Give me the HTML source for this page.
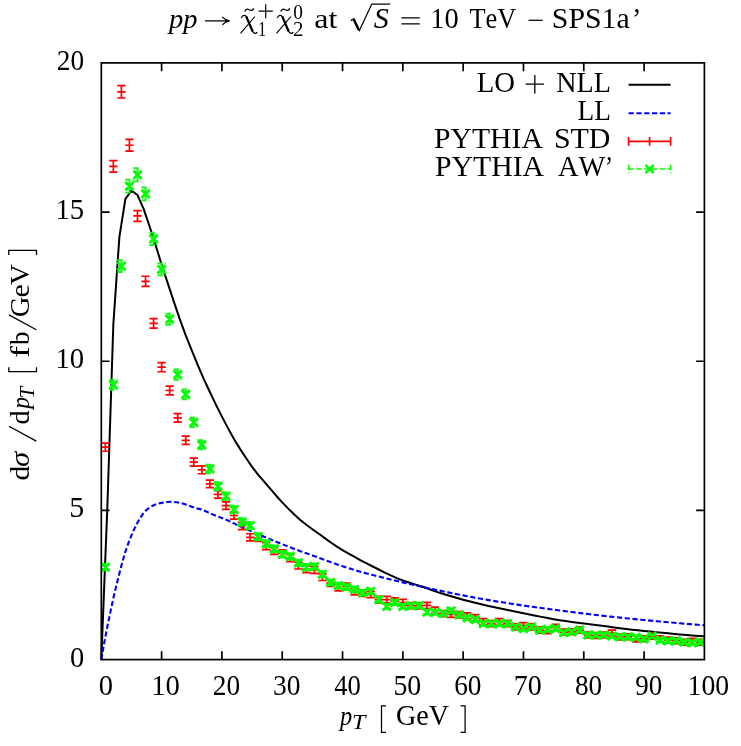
<!DOCTYPE html>
<html><head><meta charset="utf-8"><title>plot</title>
<style>html,body{margin:0;padding:0;background:#fff;}svg{display:block;will-change:transform;}text{font-family:"Liberation Serif",serif;font-kerning:none;}</style></head>
<body>
<svg width="741" height="746" viewBox="0 0 741 746">
<rect x="0" y="0" width="741" height="746" fill="#fff"/>
<path d="M161.61 659.60V651.30M161.61 62.90V71.20M221.92 659.60V651.30M221.92 62.90V71.20M282.23 659.60V651.30M282.23 62.90V71.20M342.54 659.60V651.30M342.54 62.90V71.20M402.85 659.60V651.30M402.85 62.90V71.20M463.16 659.60V651.30M463.16 62.90V71.20M523.47 659.60V651.30M523.47 62.90V71.20M583.78 659.60V651.30M583.78 62.90V71.20M644.09 659.60V651.30M644.09 62.90V71.20M101.30 510.43H109.60M704.40 510.43H696.10M101.30 361.25H109.60M704.40 361.25H696.10M101.30 212.07H109.60M704.40 212.07H696.10" stroke="#000" stroke-width="1.70" fill="none"/>
<path d="M101.30 659.60L107.33 507.44L113.36 323.96L119.39 236.84L125.42 198.95L131.45 190.59L137.49 195.03L143.52 208.70L149.55 226.22L155.58 244.99L161.61 264.48L167.64 282.93L173.67 301.13L179.70 318.83L185.73 335.36L191.76 350.49L197.80 365.11L203.83 379.10L209.86 392.03L215.89 404.63L221.92 416.65L227.95 428.11L233.98 439.09L240.01 448.88L246.04 458.03L252.07 466.82L258.11 474.69L264.14 481.55L270.17 488.54L276.20 495.72L282.23 502.37L288.26 508.63L294.29 514.54L300.32 519.97L306.35 524.74L312.38 529.19L318.42 533.47L324.45 537.84L330.48 542.29L336.51 546.36L342.54 550.08L348.57 553.60L354.60 556.98L360.63 560.28L366.66 563.46L372.70 566.51L378.73 569.51L384.76 572.53L390.79 575.45L396.82 578.13L402.85 580.46L408.88 582.47L414.91 584.34L420.94 586.21L426.97 588.24L433.01 590.46L439.04 592.58L445.07 594.47L451.10 596.28L457.13 598.01L463.16 599.68L469.19 601.27L475.22 602.81L481.25 604.28L487.28 605.67L493.32 607.01L499.35 608.29L505.38 609.53L511.41 610.76L517.44 611.97L523.47 613.20L529.50 614.44L535.53 615.67L541.56 616.88L547.59 618.05L553.62 619.15L559.66 620.16L565.69 621.08L571.72 621.94L577.75 622.75L583.78 623.53L589.81 624.29L595.84 625.05L601.87 625.82L607.90 626.61L613.94 627.39L619.97 628.16L626.00 628.92L632.03 629.64L638.06 630.32L644.09 630.95L650.12 631.58L656.15 632.18L662.18 632.77L668.21 633.35L674.25 633.90L680.28 634.44L686.31 634.95L692.34 635.43L698.37 635.90L704.40 636.33" stroke="#000" stroke-width="2" fill="none" stroke-linejoin="round"/>
<path d="M101.30 659.60L104.32 642.36L107.33 626.72L110.35 612.18L113.36 598.19L116.38 585.22L119.39 573.30L122.41 562.03L125.42 551.67L128.44 542.99L131.45 535.37L134.47 528.53L137.49 522.58L140.50 517.44L143.52 513.13L146.53 509.90L149.55 507.56L152.56 505.79L155.58 504.53L158.59 503.55L161.61 502.89L164.63 502.38L167.64 501.98L170.66 501.78L173.67 501.90L176.69 502.32L179.70 502.90L182.72 503.53L185.73 504.43L188.75 505.53L191.76 506.70L194.78 507.78L197.80 508.64L200.81 509.36L203.83 510.41L206.84 511.77L209.86 513.22L212.87 514.55L215.89 515.74L218.90 516.89L221.92 518.03L224.94 519.22L227.95 520.50L230.97 521.89L233.98 523.35L237.00 524.84L240.01 526.30L243.03 527.71L246.04 529.06L249.06 530.40L252.07 531.71L255.09 533.01L258.11 534.29L261.12 535.56L264.14 536.81L267.15 538.05L270.17 539.28L273.18 540.50L276.20 541.72L279.21 542.93L282.23 544.14L285.25 545.35L288.26 546.57L291.28 547.77L294.29 548.95L297.31 550.10L300.32 551.22L303.34 552.29L306.35 553.32L309.37 554.37L312.38 555.44L315.40 556.54L318.42 557.65L321.43 558.77L324.45 559.88L327.46 560.98L330.48 562.07L333.49 563.12L336.51 564.14L339.52 565.16L342.54 566.16L345.56 567.14L348.57 568.11L351.59 569.06L354.60 569.99L357.62 570.89L360.63 571.76L363.65 572.60L366.66 573.43L369.68 574.24L372.70 575.03L375.71 575.81L378.73 576.58L381.74 577.33L384.76 578.08L387.77 578.82L390.79 579.55L393.80 580.28L396.82 581.01L399.83 581.73L402.85 582.45L405.87 583.16L408.88 583.86L411.90 584.56L414.91 585.25L417.93 585.93L420.94 586.60L423.96 587.27L426.97 587.93L429.99 588.58L433.01 589.22L436.02 589.86L439.04 590.48L442.05 591.10L445.07 591.73L448.08 592.35L451.10 592.97L454.11 593.58L457.13 594.19L460.14 594.80L463.16 595.40L466.18 595.99L469.19 596.58L472.21 597.15L475.22 597.71L478.24 598.26L481.25 598.80L484.27 599.33L487.28 599.85L490.30 600.36L493.32 600.86L496.33 601.36L499.35 601.84L502.36 602.33L505.38 602.80L508.39 603.27L511.41 603.73L514.42 604.19L517.44 604.64L520.45 605.09L523.47 605.53L526.49 605.97L529.50 606.40L532.52 606.82L535.53 607.24L538.55 607.65L541.56 608.06L544.58 608.46L547.59 608.86L550.61 609.26L553.62 609.66L556.64 610.05L559.66 610.44L562.67 610.84L565.69 611.23L568.70 611.61L571.72 612.00L574.73 612.38L577.75 612.76L580.76 613.14L583.78 613.51L586.80 613.88L589.81 614.25L592.83 614.61L595.84 614.96L598.86 615.31L601.87 615.65L604.89 615.99L607.90 616.32L610.92 616.65L613.94 616.98L616.95 617.30L619.97 617.62L622.98 617.93L626.00 618.24L629.01 618.55L632.03 618.85L635.04 619.15L638.06 619.45L641.07 619.74L644.09 620.03L647.11 620.31L650.12 620.60L653.14 620.88L656.15 621.16L659.17 621.44L662.18 621.72L665.20 621.99L668.21 622.26L671.23 622.53L674.25 622.79L677.26 623.06L680.28 623.32L683.29 623.58L686.31 623.83L689.32 624.08L692.34 624.33L695.35 624.58L698.37 624.82L701.38 625.05L704.40 625.29" stroke="#00f" stroke-width="2.1" fill="none" stroke-dasharray="5.2 2.6"/>
<clipPath id="c"><rect x="101.30" y="62.90" width="603.10" height="596.70"/></clipPath>
<path d="M105.32 443.12V451.23M101.17 443.12H109.47M101.17 447.17H109.47M101.17 451.23H109.47M113.36 160.71V172.14M109.21 160.71H117.51M109.21 166.43H117.51M109.21 172.14H117.51M121.40 85.69V97.99M117.25 85.69H125.55M117.25 91.84H125.55M117.25 97.99H125.55M129.44 139.41V151.08M125.29 139.41H133.59M125.29 145.24H133.59M125.29 151.08H133.59M137.49 210.53V221.38M133.34 210.53H141.64M133.34 215.95H141.64M133.34 221.38H141.64M145.53 276.26V286.33M141.38 276.26H149.68M141.38 281.29H149.68M141.38 286.33H149.68M153.57 318.57V328.15M149.42 318.57H157.72M149.42 323.36H157.72M149.42 328.15H157.72M161.61 362.69V371.75M157.46 362.69H165.76M157.46 367.22H165.76M157.46 371.75H165.76M169.65 386.10V394.88M165.50 386.10H173.80M165.50 390.49H173.80M165.50 394.88H173.80M177.69 413.71V422.17M173.54 413.71H181.84M173.54 417.94H181.84M173.54 422.17H181.84M185.73 436.21V444.41M181.58 436.21H189.88M181.58 440.31H189.88M181.58 444.41H189.88M193.78 458.12V466.06M189.63 458.12H197.93M189.63 462.09H197.93M189.63 466.06H197.93M201.82 465.93V473.77M197.67 465.93H205.97M197.67 469.85H205.97M197.67 473.77H205.97M209.86 480.03V487.71M205.71 480.03H214.01M205.71 483.87H214.01M205.71 487.71H214.01M217.90 490.53V498.09M213.75 490.53H222.05M213.75 494.31H222.05M213.75 498.09H222.05M225.94 501.94V509.36M221.79 501.94H230.09M221.79 505.65H230.09M221.79 509.36H230.09M233.98 511.84V519.15M229.83 511.84H238.13M229.83 515.50H238.13M229.83 519.15H238.13M242.02 522.35V529.53M237.87 522.35H246.17M237.87 525.94H246.17M237.87 529.53H246.17M250.06 533.75V540.80M245.91 533.75H254.21M245.91 537.28H254.21M245.91 540.80H254.21M258.11 534.35V541.40M253.96 534.35H262.26M253.96 537.87H262.26M253.96 541.40H262.26M266.15 542.75V549.70M262.00 542.75H270.30M262.00 546.23H270.30M262.00 549.70H270.30M274.19 547.56V554.45M270.04 547.56H278.34M270.04 551.00H278.34M270.04 554.45H278.34M282.23 549.96V556.82M278.08 549.96H286.38M278.08 553.39H286.38M278.08 556.82H286.38M290.27 554.76V561.56M286.12 554.76H294.42M286.12 558.16H294.42M286.12 561.56H294.42M298.31 562.26V568.98M294.16 562.26H302.46M294.16 565.62H302.46M294.16 568.98H302.46M306.35 565.92V572.60M302.20 565.92H310.50M302.20 569.26H310.50M302.20 572.60H310.50M314.40 566.67V573.34M310.25 566.67H318.55M310.25 570.01H318.55M310.25 573.34H318.55M322.44 573.94V580.52M318.29 573.94H326.59M318.29 577.23H326.59M318.29 580.52H326.59M330.48 579.88V586.39M326.33 579.88H334.63M326.33 583.13H334.63M326.33 586.39H334.63M338.52 584.39V590.85M334.37 584.39H342.67M334.37 587.62H342.67M334.37 590.85H342.67M346.56 583.19V589.67M342.41 583.19H350.71M342.41 586.43H350.71M342.41 589.67H350.71M354.60 588.57V594.97M350.45 588.57H358.75M350.45 591.77H358.75M350.45 594.97H358.75M362.64 589.98V596.37M358.49 589.98H366.79M358.49 593.17H366.79M358.49 596.37H366.79M370.68 591.31V597.69M366.53 591.31H374.83M366.53 594.50H374.83M366.53 597.69H374.83M378.73 596.47V602.79M374.58 596.47H382.88M374.58 599.63H382.88M374.58 602.79H382.88M386.77 596.47V602.79M382.62 596.47H390.92M382.62 599.63H390.92M382.62 602.79H390.92M394.81 597.97V604.27M390.66 597.97H398.96M390.66 601.12H398.96M390.66 604.27H398.96M402.85 599.47V605.76M398.70 599.47H407.00M398.70 602.62H407.00M398.70 605.76H407.00M410.89 602.48V608.72M406.74 602.48H415.04M406.74 605.60H415.04M406.74 608.72H415.04M418.93 602.78V609.02M414.78 602.78H423.08M414.78 605.90H423.08M414.78 609.02H423.08M426.97 602.33V608.57M422.82 602.33H431.12M422.82 605.45H431.12M422.82 608.57H431.12M435.02 607.19V613.38M430.87 607.19H439.17M430.87 610.28H439.17M430.87 613.38H439.17M443.06 610.52V616.67M438.91 610.52H447.21M438.91 613.59H447.21M438.91 616.67H447.21M451.10 611.33V617.47M446.95 611.33H455.25M446.95 614.40H455.25M446.95 617.47H455.25M459.14 611.72V617.86M454.99 611.72H463.29M454.99 614.79H463.29M454.99 617.86H463.29M467.18 612.92V619.04M463.03 612.92H471.33M463.03 615.98H471.33M463.03 619.04H471.33M475.22 614.54V620.64M471.07 614.54H479.37M471.07 617.59H479.37M471.07 620.64H479.37M483.26 618.59V624.65M479.11 618.59H487.41M479.11 621.62H487.41M479.11 624.65H487.41M491.30 620.66V626.70M487.15 620.66H495.45M487.15 623.68H495.45M487.15 626.70H495.45M499.35 618.59V624.65M495.20 618.59H503.50M495.20 621.62H503.50M495.20 624.65H503.50M507.39 620.66V626.70M503.24 620.66H511.54M503.24 623.68H511.54M503.24 626.70H511.54M515.43 623.90V629.90M511.28 623.90H519.58M511.28 626.90H519.58M511.28 629.90H519.58M523.47 622.67V628.68M519.32 622.67H527.62M519.32 625.68H527.62M519.32 628.68H527.62M531.51 623.90V629.90M527.36 623.90H535.66M527.36 626.90H535.66M527.36 629.90H535.66M539.55 627.17V633.13M535.40 627.17H543.70M535.40 630.15H543.70M535.40 633.13H543.70M547.59 627.62V633.58M543.44 627.62H551.74M543.44 630.60H551.74M543.44 633.58H551.74M555.64 624.29V630.28M551.49 624.29H559.79M551.49 627.29H559.79M551.49 630.28H559.79M563.68 629.19V635.12M559.53 629.19H567.83M559.53 632.15H567.83M559.53 635.12H567.83M571.72 628.83V634.76M567.57 628.83H575.87M567.57 631.79H575.87M567.57 634.76H575.87M579.76 627.17V633.13M575.61 627.17H583.91M575.61 630.15H583.91M575.61 633.13H583.91M587.80 632.07V637.97M583.65 632.07H591.95M583.65 635.02H591.95M583.65 637.97H591.95M595.84 632.49V638.38M591.69 632.49H599.99M591.69 635.43H599.99M591.69 638.38H599.99M603.88 632.07V637.97M599.73 632.07H608.03M599.73 635.02H608.03M599.73 637.97H608.03M611.92 630.09V636.01M607.77 630.09H616.07M607.77 633.05H616.07M607.77 636.01H616.07M619.97 634.08V639.95M615.82 634.08H624.12M615.82 637.01H624.12M615.82 639.95H624.12M628.01 633.87V639.75M623.86 633.87H632.16M623.86 636.81H632.16M623.86 639.75H632.16M636.05 635.94V641.79M631.90 635.94H640.20M631.90 638.86H640.20M631.90 641.79H640.20M644.09 635.88V641.73M639.94 635.88H648.24M639.94 638.81H648.24M639.94 641.73H648.24M652.13 633.33V639.21M647.98 633.33H656.28M647.98 636.27H656.28M647.98 639.21H656.28M660.17 635.73V641.58M656.02 635.73H664.32M656.02 638.66H664.32M656.02 641.58H664.32M668.21 637.08V642.92M664.06 637.08H672.36M664.06 640.00H672.36M664.06 642.92H672.36M676.26 637.77V643.60M672.11 637.77H680.41M672.11 640.68H680.41M672.11 643.60H680.41M684.30 639.30V645.11M680.15 639.30H688.45M680.15 642.21H688.45M680.15 645.11H688.45M692.34 638.46V644.28M688.19 638.46H696.49M688.19 641.37H696.49M688.19 644.28H696.49M700.38 639.30V645.11M696.23 639.30H704.53M696.23 642.21H704.53M696.23 645.11H704.53" stroke="#f00" stroke-width="1.7" fill="none" clip-path="url(#c)"/>
<path d="M105.32 564.02V570.20M101.17 564.02H109.47M101.17 570.20H109.47M113.36 379.75V389.89M109.21 379.75H117.51M109.21 389.89H117.51M121.40 260.08V272.07M117.25 260.08H125.55M117.25 272.07H125.55M129.44 179.58V192.66M125.29 179.58H133.59M125.29 192.66H133.59M137.49 168.17V181.39M133.34 168.17H141.64M133.34 181.39H141.64M145.53 187.39V200.36M141.38 187.39H149.68M141.38 200.36H149.68M153.57 232.74V245.11M149.42 232.74H157.72M149.42 245.11H157.72M161.61 263.39V275.33M157.46 263.39H165.76M157.46 275.33H165.76M169.65 313.58V324.78M165.50 313.58H173.80M165.50 324.78H173.80M177.69 369.52V379.83M173.54 369.52H181.84M173.54 379.83H181.84M185.73 389.38V399.35M181.58 389.38H189.88M181.58 399.35H189.88M193.78 417.68V427.14M189.63 417.68H197.93M189.63 427.14H197.93M201.82 440.27V449.31M197.67 440.27H205.97M197.67 449.31H205.97M209.86 464.67V473.23M205.71 464.67H214.01M205.71 473.23H214.01M217.90 482.16V490.36M213.75 482.16H222.05M213.75 490.36H222.05M225.94 492.11V500.09M221.79 492.11H230.09M221.79 500.09H230.09M233.98 505.69V513.37M229.83 505.69H238.13M229.83 513.37H238.13M242.02 518.07V525.45M237.87 518.07H246.17M237.87 525.45H246.17M250.06 522.00V529.29M245.91 522.00H254.21M245.91 529.29H254.21M258.11 533.17V540.19M253.96 533.17H262.26M253.96 540.19H262.26M266.15 540.12V546.96M262.00 540.12H270.30M262.00 546.96H270.30M274.19 545.57V552.26M270.04 545.57H278.34M270.04 552.26H278.34M282.23 551.01V557.56M278.08 551.01H286.38M278.08 557.56H286.38M290.27 553.13V559.61M286.12 553.13H294.42M286.12 559.61H294.42M298.31 559.78V566.09M294.16 559.78H302.46M294.16 566.09H302.46M306.35 564.02V570.20M302.20 564.02H310.50M302.20 570.20H310.50M314.40 563.42V569.61M310.25 563.42H318.55M310.25 569.61H318.55M322.44 571.29V577.25M318.29 571.29H326.59M318.29 577.25H326.59M330.48 579.47V585.18M326.33 579.47H334.63M326.33 585.18H334.63M338.52 582.81V588.41M334.37 582.81H342.67M334.37 588.41H342.67M346.56 584.32V589.88M342.41 584.32H350.71M342.41 589.88H350.71M354.60 586.75V592.22M350.45 586.75H358.75M350.45 592.22H358.75M362.64 590.09V595.45M358.49 590.09H366.79M358.49 595.45H366.79M370.68 588.57V593.98M366.53 588.57H374.83M366.53 593.98H374.83M378.73 597.07V602.19M374.58 597.07H382.88M374.58 602.19H382.88M386.77 604.07V608.92M382.62 604.07H390.92M382.62 608.92H390.92M394.81 600.11V605.12M390.66 600.11H398.96M390.66 605.12H398.96M402.85 604.07V608.92M398.70 604.07H407.00M398.70 608.92H407.00M410.89 603.15V608.04M406.74 603.15H415.04M406.74 608.04H415.04M418.93 603.15V608.04M414.78 603.15H423.08M414.78 608.04H423.08M426.97 609.85V614.48M422.82 609.85H431.12M422.82 614.48H431.12M435.02 610.03V614.65M430.87 610.03H439.17M430.87 614.65H439.17M443.06 611.19V615.76M438.91 611.19H447.21M438.91 615.76H447.21M451.10 608.39V613.07M446.95 608.39H455.25M446.95 613.07H455.25M459.14 612.53V617.05M454.99 612.53H463.29M454.99 617.05H463.29M467.18 615.82V620.20M463.03 615.82H471.33M463.03 620.20H471.33M475.22 617.47V621.78M471.07 617.47H479.37M471.07 621.78H479.37M483.26 621.62V625.74M479.11 621.62H487.41M479.11 625.74H487.41M491.30 621.62V625.74M487.15 621.62H495.45M487.15 625.74H495.45M499.35 621.62V625.74M495.20 621.62H503.50M495.20 625.74H503.50M507.39 621.62V625.74M503.24 621.62H511.54M503.24 625.74H511.54M515.43 624.92V628.88M511.28 624.92H519.58M511.28 628.88H519.58M523.47 626.63V630.51M519.32 626.63H527.62M519.32 630.51H527.62M531.51 624.92V628.88M527.36 624.92H535.66M527.36 628.88H535.66M539.55 628.25V632.05M535.40 628.25H543.70M535.40 632.05H543.70M547.59 627.43V631.27M543.44 627.43H551.74M543.44 631.27H551.74M555.64 626.63V630.51M551.49 626.63H559.79M551.49 630.51H559.79M563.68 630.77V634.43M559.53 630.77H567.83M559.53 634.43H567.83M571.72 629.94V633.65M567.57 629.94H575.87M567.57 633.65H575.87M579.76 628.25V632.05M575.61 628.25H583.91M575.61 632.05H583.91M587.80 633.25V636.78M583.65 633.25H591.95M583.65 636.78H591.95M595.84 633.25V636.78M591.69 633.25H599.99M591.69 636.78H599.99M603.88 633.25V636.78M599.73 633.25H608.03M599.73 636.78H608.03M611.92 634.29V637.77M607.77 634.29H616.07M607.77 637.77H616.07M619.97 635.09V638.52M615.82 635.09H624.12M615.82 638.52H624.12M628.01 635.09V638.52M623.86 635.09H632.16M623.86 638.52H632.16M636.05 635.77V639.16M631.90 635.77H640.20M631.90 639.16H640.20M644.09 637.15V640.46M639.94 637.15H648.24M639.94 640.46H648.24M652.13 634.39V637.85M647.98 634.39H656.28M647.98 637.85H656.28M660.17 638.57V641.79M656.02 638.57H664.32M656.02 641.79H664.32M668.21 639.25V642.42M664.06 639.25H672.36M664.06 642.42H672.36M676.26 639.25V642.42M672.11 639.25H680.41M672.11 642.42H680.41M684.30 640.66V643.75M680.15 640.66H688.45M680.15 643.75H688.45M692.34 641.34V644.38M688.19 641.34H696.49M688.19 644.38H696.49M700.38 640.66V643.75M696.23 640.66H704.53M696.23 643.75H704.53" stroke="#0f0" stroke-width="1.9" fill="none" stroke-dasharray="5.2 2.6" clip-path="url(#c)"/>
<path d="M101.22 563.01L109.42 571.21M101.22 571.21L109.42 563.01M109.26 380.72L117.46 388.92M109.26 388.92L117.46 380.72M117.30 261.98L125.50 270.18M117.30 270.18L125.50 261.98M125.34 182.02L133.54 190.22M125.34 190.22L133.54 182.02M133.39 170.68L141.59 178.88M133.39 178.88L141.59 170.68M141.43 189.78L149.63 197.98M141.43 197.98L149.63 189.78M149.47 234.83L157.67 243.03M149.47 243.03L157.67 234.83M157.51 265.26L165.71 273.46M157.51 273.46L165.71 265.26M165.55 315.08L173.75 323.28M165.55 323.28L173.75 315.08M173.59 370.58L181.79 378.78M173.59 378.78L181.79 370.58M181.63 390.27L189.83 398.47M181.63 398.47L189.83 390.27M189.68 418.31L197.88 426.51M189.68 426.51L197.88 418.31M197.72 440.69L205.92 448.89M197.72 448.89L205.92 440.69M205.76 464.85L213.96 473.05M205.76 473.05L213.96 464.85M213.80 482.16L222.00 490.36M213.80 490.36L222.00 482.16M221.84 492.00L230.04 500.20M221.84 500.20L230.04 492.00M229.88 505.43L238.08 513.63M229.88 513.63L238.08 505.43M237.92 517.66L246.12 525.86M237.92 525.86L246.12 517.66M245.96 521.54L254.16 529.74M245.96 529.74L254.16 521.54M254.01 532.58L262.21 540.78M254.01 540.78L262.21 532.58M262.05 539.44L270.25 547.64M262.05 547.64L270.25 539.44M270.09 544.81L278.29 553.01M270.09 553.01L278.29 544.81M278.13 550.18L286.33 558.38M278.13 558.38L286.33 550.18M286.17 552.27L294.37 560.47M286.17 560.47L294.37 552.27M294.21 558.83L302.41 567.03M294.21 567.03L302.41 558.83M302.25 563.01L310.45 571.21M302.25 571.21L310.45 563.01M310.30 562.41L318.50 570.61M310.30 570.61L318.50 562.41M318.34 570.17L326.54 578.37M318.34 578.37L326.54 570.17M326.38 578.23L334.58 586.43M326.38 586.43L334.58 578.23M334.42 581.51L342.62 589.71M334.42 589.71L342.62 581.51M342.46 583.00L350.66 591.20M342.46 591.20L350.66 583.00M350.50 585.39L358.70 593.59M350.50 593.59L358.70 585.39M358.54 588.67L366.74 596.87M358.54 596.87L366.74 588.67M366.58 587.18L374.78 595.38M366.58 595.38L374.78 587.18M374.63 595.53L382.83 603.73M374.63 603.73L382.83 595.53M382.67 602.39L390.87 610.59M382.67 610.59L390.87 602.39M390.71 598.52L398.91 606.72M390.71 606.72L398.91 598.52M398.75 602.39L406.95 610.59M398.75 610.59L406.95 602.39M406.79 601.50L414.99 609.70M406.79 609.70L414.99 601.50M414.83 601.50L423.03 609.70M414.83 609.70L423.03 601.50M422.87 608.06L431.07 616.26M422.87 616.26L431.07 608.06M430.92 608.24L439.12 616.44M430.92 616.44L439.12 608.24M438.96 609.38L447.16 617.58M438.96 617.58L447.16 609.38M447.00 606.63L455.20 614.83M447.00 614.83L455.20 606.63M455.04 610.69L463.24 618.89M455.04 618.89L463.24 610.69M463.08 613.91L471.28 622.11M463.08 622.11L471.28 613.91M471.12 615.52L479.32 623.72M471.12 623.72L479.32 615.52M479.16 619.58L487.36 627.78M479.16 627.78L487.36 619.58M487.20 619.58L495.40 627.78M487.20 627.78L495.40 619.58M495.25 619.58L503.45 627.78M495.25 627.78L503.45 619.58M503.29 619.58L511.49 627.78M503.29 627.78L511.49 619.58M511.33 622.80L519.53 631.00M511.33 631.00L519.53 622.80M519.37 624.47L527.57 632.67M519.37 632.67L527.57 624.47M527.41 622.80L535.61 631.00M527.41 631.00L535.61 622.80M535.45 626.05L543.65 634.25M535.45 634.25L543.65 626.05M543.49 625.25L551.69 633.45M543.49 633.45L551.69 625.25M551.54 624.47L559.74 632.67M551.54 632.67L559.74 624.47M559.58 628.50L567.78 636.70M559.58 636.70L567.78 628.50M567.62 627.69L575.82 635.89M567.62 635.89L575.82 627.69M575.66 626.05L583.86 634.25M575.66 634.25L583.86 626.05M583.70 630.92L591.90 639.12M583.70 639.12L591.90 630.92M591.74 630.92L599.94 639.12M591.74 639.12L599.94 630.92M599.78 630.92L607.98 639.12M599.78 639.12L607.98 630.92M607.82 631.93L616.02 640.13M607.82 640.13L616.02 631.93M615.87 632.71L624.07 640.91M615.87 640.91L624.07 632.71M623.91 632.71L632.11 640.91M623.91 640.91L632.11 632.71M631.95 633.36L640.15 641.56M631.95 641.56L640.15 633.36M639.99 634.71L648.19 642.91M639.99 642.91L648.19 634.71M648.03 632.02L656.23 640.22M648.03 640.22L656.23 632.02M656.07 636.08L664.27 644.28M656.07 644.28L664.27 636.08M664.11 636.73L672.31 644.93M664.11 644.93L672.31 636.73M672.16 636.73L680.36 644.93M672.16 644.93L680.36 636.73M680.20 638.11L688.40 646.31M680.20 646.31L688.40 638.11M688.24 638.76L696.44 646.96M688.24 646.96L696.44 638.76M696.28 638.11L704.48 646.31M696.28 646.31L704.48 638.11" stroke="#0f0" stroke-width="2.8" fill="none" clip-path="url(#c)"/>
<rect x="101.30" y="62.90" width="603.10" height="596.70" fill="none" stroke="#000" stroke-width="1.70"/>
<path d="M628.6 84.7H670.6" stroke="#000" stroke-width="2"/>
<path d="M628.6 113.2H670.6" stroke="#00f" stroke-width="2.1" stroke-dasharray="5.2 2.6"/>
<path d="M628.6 141.4H670.6M628.6 137.1V145.7M670.6 137.1V145.7M649.6 137.1V145.7" stroke="#f00" stroke-width="1.7" fill="none"/>
<path d="M628.6 169H670.6M628.6 164.7V173.3M670.6 164.7V173.3" stroke="#0f0" stroke-width="1.7" fill="none" stroke-dasharray="5.2 2.6"/>
<path d="M645.50 164.90L653.70 173.10M645.50 173.10L653.70 164.90" stroke="#0f0" stroke-width="2.4" fill="none"/>
<g font-family="'Liberation Serif', serif" fill="#000">
<text x="69.91" y="666.60" font-size="30.00" textLength="14.27" lengthAdjust="spacingAndGlyphs">0</text>
<text x="69.25" y="517.42" font-size="30.00" textLength="15.02" lengthAdjust="spacingAndGlyphs">5</text>
<text x="55.48" y="368.25" font-size="30.00" textLength="28.72" lengthAdjust="spacingAndGlyphs">10</text>
<text x="55.47" y="219.07" font-size="30.00" textLength="28.75" lengthAdjust="spacingAndGlyphs">15</text>
<text x="56.80" y="69.90" font-size="30.00" textLength="27.34" lengthAdjust="spacingAndGlyphs">20</text>
<text x="98.86" y="695.40" font-size="30.00" textLength="14.27" lengthAdjust="spacingAndGlyphs">0</text>
<text x="151.24" y="695.40" font-size="30.00" textLength="28.72" lengthAdjust="spacingAndGlyphs">10</text>
<text x="212.87" y="695.40" font-size="30.00" textLength="27.34" lengthAdjust="spacingAndGlyphs">20</text>
<text x="273.07" y="695.40" font-size="30.00" textLength="27.46" lengthAdjust="spacingAndGlyphs">30</text>
<text x="334.17" y="695.40" font-size="30.00" textLength="26.63" lengthAdjust="spacingAndGlyphs">40</text>
<text x="393.39" y="695.40" font-size="30.00" textLength="27.77" lengthAdjust="spacingAndGlyphs">50</text>
<text x="454.14" y="695.40" font-size="30.00" textLength="27.31" lengthAdjust="spacingAndGlyphs">60</text>
<text x="513.77" y="695.40" font-size="30.00" textLength="28.01" lengthAdjust="spacingAndGlyphs">70</text>
<text x="574.90" y="695.40" font-size="30.00" textLength="27.17" lengthAdjust="spacingAndGlyphs">80</text>
<text x="635.37" y="695.40" font-size="30.00" textLength="27.00" lengthAdjust="spacingAndGlyphs">90</text>
<text x="687.61" y="695.40" font-size="30.00" textLength="41.59" lengthAdjust="spacingAndGlyphs">100</text>
<text x="476.77" y="91.80" font-size="30.00" textLength="38.31" lengthAdjust="spacingAndGlyphs">LO</text>
<text x="556.29" y="91.80" font-size="30.00" textLength="54.70" lengthAdjust="spacingAndGlyphs">NLL</text>
<text x="577.61" y="120.00" font-size="30.00" textLength="33.32" lengthAdjust="spacingAndGlyphs">LL</text>
<text x="434.05" y="148.30" font-size="30.00" textLength="108.77" lengthAdjust="spacingAndGlyphs">PYTHIA</text>
<text x="553.90" y="148.30" font-size="30.00" textLength="56.50" lengthAdjust="spacingAndGlyphs">STD</text>
<text x="435.04" y="176.30" font-size="30.00" textLength="109.07" lengthAdjust="spacingAndGlyphs">PYTHIA</text>
<text x="558.12" y="176.30" font-size="30.00" textLength="47.33" lengthAdjust="spacingAndGlyphs">AW</text>
<text x="604.88" y="176.30" font-size="30.00" textLength="8.05" lengthAdjust="spacingAndGlyphs">’</text>
<text x="340.03" y="724.90" font-size="26.50" textLength="12.21" lengthAdjust="spacingAndGlyphs" font-style="italic">p</text>
<text x="351.92" y="729.00" font-size="21.00" textLength="13.45" lengthAdjust="spacingAndGlyphs" font-style="italic">T</text>
<text x="395.95" y="725.30" font-size="30.00" textLength="53.07" lengthAdjust="spacingAndGlyphs">GeV</text>
<text x="168.97" y="27.70" font-size="26.50" textLength="28.49" lengthAdjust="spacingAndGlyphs" font-style="italic">pp</text>
<text x="257.95" y="35.60" font-size="21.00" textLength="8.24" lengthAdjust="spacingAndGlyphs">1</text>
<text x="292.88" y="35.60" font-size="21.00" textLength="10.48" lengthAdjust="spacingAndGlyphs">2</text>
<text x="293.26" y="18.90" font-size="21.00" textLength="9.67" lengthAdjust="spacingAndGlyphs">0</text>
<text x="314.27" y="27.70" font-size="27.50" textLength="23.11" lengthAdjust="spacingAndGlyphs">at</text>
<text x="373.75" y="27.70" font-size="30.00" textLength="15.04" lengthAdjust="spacingAndGlyphs" font-style="italic">S</text>
<text x="430.30" y="27.70" font-size="30.00" textLength="28.49" lengthAdjust="spacingAndGlyphs">10</text>
<text x="469.42" y="27.70" font-size="30.00" textLength="46.87" lengthAdjust="spacingAndGlyphs">TeV</text>
<text x="551.81" y="27.70" font-size="30.00" textLength="77.90" lengthAdjust="spacingAndGlyphs">SPS1a</text>
<text x="631.92" y="27.70" font-size="30.00" textLength="9.39" lengthAdjust="spacingAndGlyphs">’</text>
</g>
<g fill="none" stroke="#000">
<path d="M525.6 84.2H544M534.8 75V93.4" stroke-width="1.3"/>
<path d="M386 705.9H381.5V732.3H386M460.6 705.9H465.1V732.3H460.6" stroke-width="1.25"/>
<path d="M205 20.9H229.2M222.3 16.9C224.3 19.2 226.6 20.4 229.6 20.9C226.6 21.4 224.3 22.6 222.3 24.9" stroke-width="1.3"/>
<g transform="translate(0.0 0)">
<path d="M254.9 16.5L240.5 33.4" stroke-width="1.15"/>
<path d="M241.2 17.9C242.1 15.8 243.4 15.1 244.7 15.4C246.0 15.7 246.7 16.9 247.4 18.6" stroke-width="1.2"/>
<path d="M246.2 16.4L252.6 31.2" stroke-width="2.3"/>
<path d="M251.9 29.8C252.8 31.9 253.8 33.3 255.1 33.4C256.1 33.4 256.8 32.8 257.2 31.9" stroke-width="1.2"/>
<path d="M244.8 11.6C245.6 9.0 247.4 8.7 249.2 9.8C251.0 10.9 252.6 10.6 253.8 8.4" stroke-width="1.25"/>
</g>
<g transform="translate(36.0 0)">
<path d="M254.9 16.5L240.5 33.4" stroke-width="1.15"/>
<path d="M241.2 17.9C242.1 15.8 243.4 15.1 244.7 15.4C246.0 15.7 246.7 16.9 247.4 18.6" stroke-width="1.2"/>
<path d="M246.2 16.4L252.6 31.2" stroke-width="2.3"/>
<path d="M251.9 29.8C252.8 31.9 253.8 33.3 255.1 33.4C256.1 33.4 256.8 32.8 257.2 31.9" stroke-width="1.2"/>
<path d="M244.8 11.6C245.6 9.0 247.4 8.7 249.2 9.8C251.0 10.9 252.6 10.6 253.8 8.4" stroke-width="1.25"/>
</g>
<path d="M258.6 11.1H272.8M265.7 4.2V18.2" stroke-width="1.2"/>
<path d="M350.8 20.6L354 18.6L359.4 30.6L371.8 4.1H390.2" stroke-width="1.25" stroke-linejoin="miter"/>
<path d="M353.6 19.2L358.9 30.2" stroke-width="2.3"/>
<path d="M401.4 17.8H419.8M401.4 23.9H419.8" stroke-width="1.3"/>
<path d="M528.6 20.3H542.6" stroke-width="1.25"/>
</g>
<g font-family="'Liberation Serif', serif" fill="#000" transform="translate(29.4 481) rotate(-90)">
<text x="0.64" y="0.00" font-size="28.00" textLength="14.72" lengthAdjust="spacingAndGlyphs">d</text>
<text x="13.98" y="0.00" font-size="28.00" textLength="15.24" lengthAdjust="spacingAndGlyphs" font-style="italic">σ</text>
<text x="56.58" y="0.00" font-size="28.00" textLength="14.06" lengthAdjust="spacingAndGlyphs">d</text>
<text x="72.28" y="0.00" font-size="25.50" textLength="11.74" lengthAdjust="spacingAndGlyphs" font-style="italic">p</text>
<text x="82.52" y="4.40" font-size="21.00" textLength="11.73" lengthAdjust="spacingAndGlyphs" font-style="italic">T</text>
<text x="123.32" y="0.00" font-size="28.00" textLength="11.68" lengthAdjust="spacingAndGlyphs">f</text>
<text x="136.00" y="0.00" font-size="28.00" textLength="13.42" lengthAdjust="spacingAndGlyphs">b</text>
<text x="163.72" y="0.00" font-size="28.00" textLength="20.78" lengthAdjust="spacingAndGlyphs">G</text>
<text x="183.42" y="0.00" font-size="28.00" textLength="13.43" lengthAdjust="spacingAndGlyphs">e</text>
<text x="196.08" y="0.00" font-size="28.00" textLength="20.85" lengthAdjust="spacingAndGlyphs">V</text>
<path d="M113.8 -20.6H109.3V7.1H113.8M225.9 -20.6H230.7V7.1H225.9M39.9 6.9L54.8 -20.4M151.2 6.9L166.1 -20.4" stroke="#000" stroke-width="1.3" fill="none"/>
</g>
</svg>
</body></html>
